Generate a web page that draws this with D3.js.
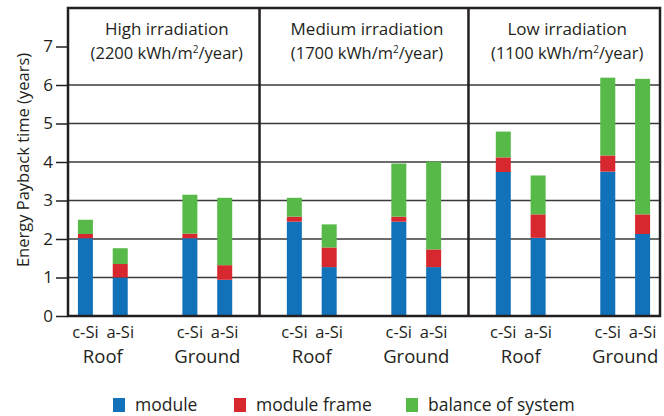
<!DOCTYPE html>
<html>
<head>
<meta charset="utf-8">
<script src="https://cdn.jsdelivr.net/npm/d3@7"></script>
<style>
  html, body { margin: 0; padding: 0; background: #fff; }
  svg { display: block; font-family: "Open Sans", sans-serif; }
</style>
</head>
<body>
<div id="chart"></div>
<script>
// panels and bars
const panelTitles = ["High irradiation", "Medium irradiation", "Low irradiation"];
const panelIrradiation = ["2200", "1700", "1100"];
const mountings = ["Roof", "Ground"];
const technologies = ["c-Si", "a-Si"];
const seriesNames = ["module", "module frame", "balance of system"];
const seriesKeys = ["module", "frame", "bos"];

// values in years, order: High (Roof c-Si, Roof a-Si, Ground c-Si, Ground a-Si), Medium (...), Low (...)
const moduleValues = [2.02, 1.00, 2.02, 0.94,  2.45, 1.27, 2.45, 1.27,  3.74, 2.03, 3.75, 2.13];
const frameValues  = [0.11, 0.35, 0.12, 0.38,  0.13, 0.51, 0.13, 0.46,  0.38, 0.61, 0.42, 0.51];
const bosValues    = [0.37, 0.41, 1.01, 1.75,  0.49, 0.60, 1.38, 2.28,  0.67, 1.01, 2.02, 3.52];
const yTicks = [0, 1, 2, 3, 4, 5, 6, 7];

const colors = { module: "#1172ba", frame: "#d7282f", bos: "#57b947" };
const ink = "#231f20";

const W = 664, H = 416;
const svg = d3.select("#chart").append("svg").attr("width", W).attr("height", H);

// build rows
const rows = [];
panelTitles.forEach((p, pi) => {
  mountings.forEach((m, mi) => {
    technologies.forEach((t, ti) => {
      const i = pi * 4 + mi * 2 + ti;
      rows.push({
        panel: pi, mount: m, tech: t,
        slot: pi * 6 + mi * 3 + ti,
        module: moduleValues[i], frame: frameValues[i], bos: bosValues[i]
      });
    });
  });
});

const x = d3.scaleLinear().domain([-0.5, 16.5]).range([68, 660]);
const y = d3.scaleLinear().domain([0, 8]).range([316, 8]);
const barW = 15;

// gridlines
svg.append("g").selectAll("line")
  .data(yTicks.filter(d => d > 0 && d < 7))
  .join("line")
  .attr("x1", x(-0.5)).attr("x2", x(16.5))
  .attr("y1", d => y(d)).attr("y2", d => y(d))
  .attr("stroke", "#3a3a3a").attr("stroke-width", 1.5);

// stacked bars
const stack = d3.stack().keys(seriesKeys);
const layers = stack(rows);
svg.append("g").selectAll("g")
  .data(layers)
  .join("g")
  .attr("fill", d => colors[d.key])
  .selectAll("rect")
  .data(d => d)
  .join("rect")
  .attr("x", d => x(d.data.slot) - barW / 2)
  .attr("width", barW)
  .attr("y", d => y(d[1]))
  .attr("height", d => y(d[0]) - y(d[1]));

// panel dividers
svg.append("g").selectAll("line")
  .data([5, 11])
  .join("line")
  .attr("x1", d => x(d)).attr("x2", d => x(d))
  .attr("y1", y(8)).attr("y2", y(0))
  .attr("stroke", ink).attr("stroke-width", 2.5);

// frame
svg.append("rect")
  .attr("x", x(-0.5)).attr("y", y(8))
  .attr("width", x(16.5) - x(-0.5)).attr("height", y(0) - y(8))
  .attr("fill", "none").attr("stroke", ink).attr("stroke-width", 2.5);

// y axis
const yAxis = d3.axisLeft(y).tickValues(yTicks).tickSize(12).tickPadding(3);
const ya = svg.append("g").attr("transform", `translate(${x(-0.5)},0)`).call(yAxis);
ya.select(".domain").remove();
ya.selectAll(".tick line").attr("stroke", ink).attr("stroke-width", 1.5);
ya.selectAll(".tick text").attr("fill", ink).attr("font-size", 17)
  .attr("font-family", "'Open Sans', sans-serif");

svg.append("text")
  .attr("transform", `translate(29,160) rotate(-90)`)
  .attr("text-anchor", "middle").attr("fill", ink).attr("font-size", 16.5)
  .text("Energy Payback time (years)");

// panel titles
const panelBounds = [[-0.5, 5], [5, 11], [11, 16.5]];
panelTitles.forEach((t, i) => {
  const cx = (x(panelBounds[i][0]) + x(panelBounds[i][1])) / 2 + 3;
  svg.append("text").attr("x", cx).attr("y", 35)
    .attr("text-anchor", "middle").attr("fill", ink).attr("font-size", 17)
    .text(t);
  const t2 = svg.append("text").attr("x", cx).attr("y", 59)
    .attr("text-anchor", "middle").attr("fill", ink).attr("font-size", 16.5);
  t2.append("tspan").text(`(${panelIrradiation[i]} kWh/m`);
  t2.append("tspan").attr("font-size", 10).attr("dy", -6).text("2");
  t2.append("tspan").attr("dy", 6).text("/year)");
});

// x labels
svg.append("g").selectAll("text")
  .data(rows)
  .join("text")
  .attr("x", d => x(d.slot)).attr("y", 338)
  .attr("text-anchor", "middle").attr("fill", ink).attr("font-size", 16.5)
  .text(d => d.tech);

const groups = d3.groups(rows, d => d.panel, d => d.mount).flatMap(([, ms]) => ms);
svg.append("g").selectAll("text")
  .data(groups)
  .join("text")
  .attr("x", d => x(d3.mean(d[1], r => r.slot)))
  .attr("y", 363)
  .attr("text-anchor", "middle").attr("fill", ink).attr("font-size", 18.5)
  .text(d => d[0]);

// legend
const legendX = [113, 234, 406];
const lg = svg.append("g").selectAll("g")
  .data(seriesKeys)
  .join("g")
  .attr("transform", (d, i) => `translate(${legendX[i]},398)`);
lg.append("rect").attr("width", 12).attr("height", 14).attr("fill", d => colors[d]);
lg.append("text").attr("x", 22).attr("y", 13)
  .attr("fill", ink).attr("font-size", 17.5)
  .text((d, i) => seriesNames[i]);
</script>
</body>
</html>
